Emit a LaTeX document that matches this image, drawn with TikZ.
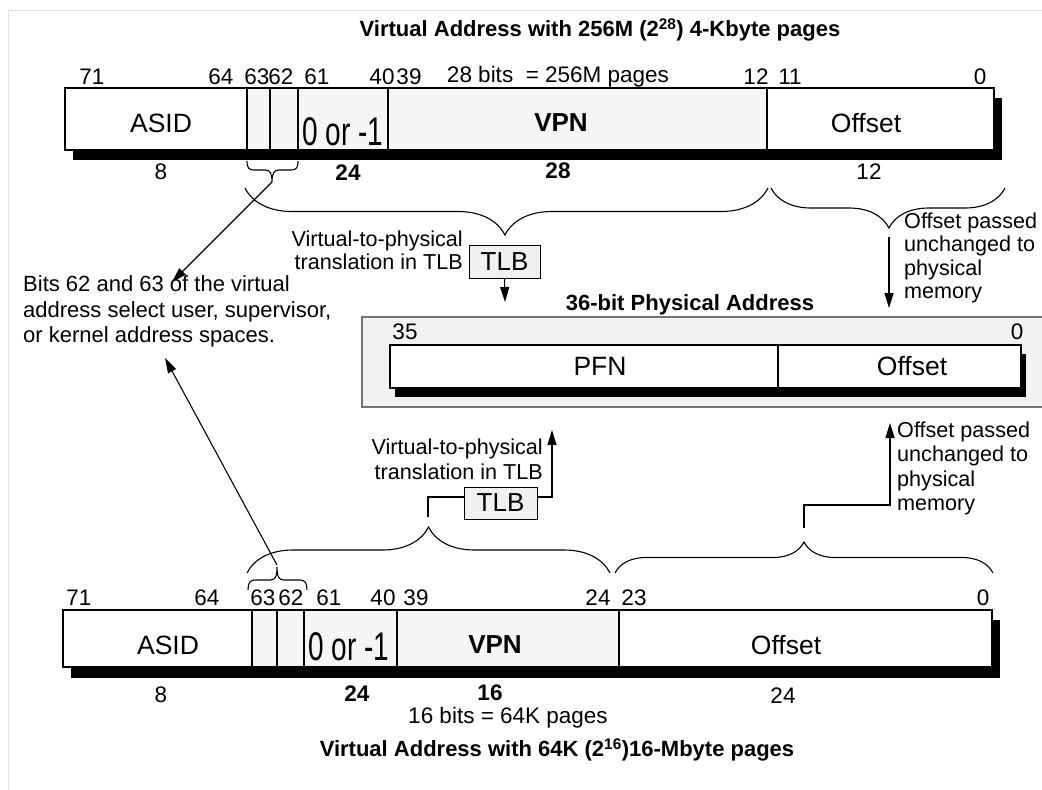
\documentclass[tikz,border=0pt]{standalone}
\usepackage{fontspec}
\setmainfont{Liberation Sans}
\newfontfamily\narrowfont[FakeStretch=0.7]{Liberation Sans}
\usetikzlibrary{arrows.meta,decorations.pathreplacing}

\begin{document}
\begin{tikzpicture}[x=1pt,y=-1pt,
    field/.style={draw=black, line width=1.1pt},
    fieldtxt/.style={font=\fontsize{26.5}{30}\selectfont, inner sep=0pt},
    fieldbold/.style={font=\bfseries\fontsize{26}{30}\selectfont, inner sep=0pt},
    signtxt/.style={font=\narrowfont\fontsize{40}{44}\selectfont, inner sep=0pt},
    bitnum/.style={font=\fontsize{22.5}{26}\selectfont, inner sep=0pt},
    widthbold/.style={font=\bfseries\fontsize{22.5}{26}\selectfont, inner sep=0pt},
    heading/.style={font=\bfseries\fontsize{22}{25}\selectfont, inner sep=0pt},
    note/.style={font=\fontsize{21.6}{23.4}\selectfont, inner sep=0pt, align=left},
    tlbbox/.style={draw, line width=1pt, fill=black!6, minimum width=71pt,
        minimum height=33pt, inner sep=0pt, font=\fontsize{26}{30}\selectfont},
    bigbrace/.style 2 args={decorate, decoration={brace, amplitude=#1, aspect=#2},
        line width=1.1pt},
    link/.style={line width=1.1pt},
    arr/.style={-{Triangle[length=15pt,width=9pt]}, line width=1.1pt}]

    \useasboundingbox (0,0) rectangle (1042,790);
    % Frame
    \draw[black!12, line width=1pt] (8,10) rectangle (1070,820);

    % Top virtual address (4-Kbyte pages)
    \node[heading] (ttitle) at (600,30) {Virtual Address with 256M (2\textsuperscript{28}) 4-Kbyte pages};
    \fill (73,98) rectangle (1002,160);
    \draw[field, fill=white] (65,88) rectangle (247,150);
    \foreach \xa/\xb in {247/270, 270/298, 298/388, 388/767}
        \draw[field, fill=black!4] (\xa,88) rectangle (\xb,150);
    \draw[field, fill=white] (767,88) rectangle (994,150);
    \foreach \x/\t [count=\i] in {92/71, 221/64, 257/63, 281/62, 317/61, 382/40, 409/39, 756/12, 790/11, 980/0}
        \node[bitnum] (tb\i) at (\x,77) {\t};
    \node[bitnum] (tbits) at (558,77) {28 bits~~= 256M pages};
    \node[fieldtxt] (tasid) at (161,123) {ASID};
    \node[signtxt] (tsign) at (343,132) {0 or -1};
    \node[fieldbold] (tvpn) at (561,123) {VPN};
    \node[fieldtxt] (toff) at (866,123) {Offset};
    \node[bitnum] (tw1) at (161,172) {8};
    \node[widthbold] (tw2) at (348,173) {24};
    \node[widthbold] (tw3) at (558,171) {28};
    \node[bitnum] (tw4) at (869,172) {12};

    % Braces under the top address
    \draw[link] (247,161) .. controls (247,168) and (249,170) .. (254,170) -- (265,170)
        .. controls (270,170) and (272,173) .. (272,182)
        .. controls (272,173) and (274,170) .. (279,170) -- (291,170)
        .. controls (296,170) and (298,168) .. (298,161);
    \draw[bigbrace={47pt}{0.503}] (768,188) -- (245,188);
    \draw[bigbrace={40pt}{0.496}] (1005,188) -- (771,188);
    \coordinate (tsbtip) at (272,182);
    \coordinate (bitsin) at (172,282);
    \coordinate (tpin) at (505,302);
    \coordinate (tofftop) at (889,237);
    \coordinate (toffbot) at (889,308);

    % TLB and notes
    \node[tlbbox] (ttlb) at (504.5,261.5) {TLB};
    \node[note, anchor=east, align=right] (tnote) at (463,250.5) {Virtual-to-physical\\translation in TLB};
    \node[note, anchor=west] (tpass) at (904,258) {Offset passed\\unchanged to\\physical\\memory};
    \draw[arr] (ttlb.south) -- (tpin);
    \draw[arr] (tofftop) -- (toffbot);
    \node[note, font=\fontsize{22}{25.5}\selectfont, anchor=west] (bitsnote) at (23,311.5)
        {Bits 62 and 63 of the virtual\\address select user, supervisor,\\or kernel address spaces.};
    \draw[arr] (tsbtip) -- (bitsin);

    % 36-bit physical address
    \node[heading] (ptitle) at (690,305) {36-bit Physical Address};
    \draw[draw=black!55, line width=1.2pt, fill=black!5] (362,317) rectangle (1050,407);
    \fill (395,354) rectangle (1026,397);
    \draw[field, fill=white] (390,345) rectangle (778,388);
    \draw[field, fill=white] (778,345) rectangle (1021,388);
    \node[bitnum] (p35) at (405,332) {35};
    \node[bitnum] (p0) at (1017,332) {0};
    \node[fieldtxt] (ppfn) at (600,366) {PFN};
    \node[fieldtxt] (poff) at (912,366) {Offset};

    % Bottom TLB and notes
    \node[tlbbox, minimum width=73pt, minimum height=32pt] (btlb) at (500.5,503) {TLB};
    \node[note, font=\fontsize{21.6}{25}\selectfont, anchor=east, align=right] (bnote) at (543,459.5) {Virtual-to-physical\\translation in TLB};
    \node[note, font=\fontsize{21.6}{24.5}\selectfont, anchor=west] (bpass) at (897,468.5) {Offset passed\\unchanged to\\physical\\memory};
    \coordinate (btip) at (428,517);
    \coordinate (bup) at (552,430);
    \coordinate (bostart) at (804,528);
    \coordinate (boend) at (890,423);
    \draw[link] (btip) |- ([yshift=6pt]btlb.west);
    \draw[arr] ([yshift=6pt]btlb.east) -| (bup);
    \draw[arr] (bostart) -- ++(0,-23) -| (boend);

    % Braces over the bottom address
    \draw[bigbrace={46pt}{0.5}] (247,573) -- (610,573);
    \draw[bigbrace={31pt}{0.5}] (615,573) -- (993,573);
    \draw[link] (248,590) .. controls (248,583) and (250,580) .. (255,580) -- (270,580)
        .. controls (275,580) and (277,577) .. (277,567)
        .. controls (277,577) and (279,580) .. (284,580) -- (300,580)
        .. controls (305,580) and (307,583) .. (307,590);
    \coordinate (bsbtip) at (277,565);
    \coordinate (bitsout) at (165,358);
    \draw[arr] (bsbtip) -- (bitsout);

    % Bottom virtual address (16-Mbyte pages)
    \fill (71,620) rectangle (1000,678);
    \draw[field, fill=white] (63,610) rectangle (252,667);
    \foreach \xa/\xb in {252/277, 277/304, 304/397, 397/619}
        \draw[field, fill=black!4] (\xa,610) rectangle (\xb,667);
    \draw[field, fill=white] (619,610) rectangle (992,667);
    \foreach \x/\t [count=\i] in {79/71, 207/64, 263/63, 291/62, 329/61, 383/40, 416/39, 598/24, 634/23, 983/0}
        \node[bitnum] (bb\i) at (\x,598) {\t};
    \node[fieldtxt] (basid) at (168,645) {ASID};
    \node[signtxt] (bsign) at (349,647) {0 or -1};
    \node[fieldbold] (bvpn) at (495,645) {VPN};
    \node[fieldtxt] (boff) at (786,645) {Offset};
    \node[bitnum] (bw1) at (161,695) {8};
    \node[widthbold] (bw2) at (357,694) {24};
    \node[widthbold] (bw3) at (490,693) {16};
    \node[bitnum] (bw4) at (783,696) {24};
    \node[bitnum] (bbits) at (508,718) {16 bits = 64K pages};
    \node[heading] (btitle) at (557,750) {Virtual Address with 64K (2\textsuperscript{16})16-Mbyte pages};
\end{tikzpicture}
\end{document}
